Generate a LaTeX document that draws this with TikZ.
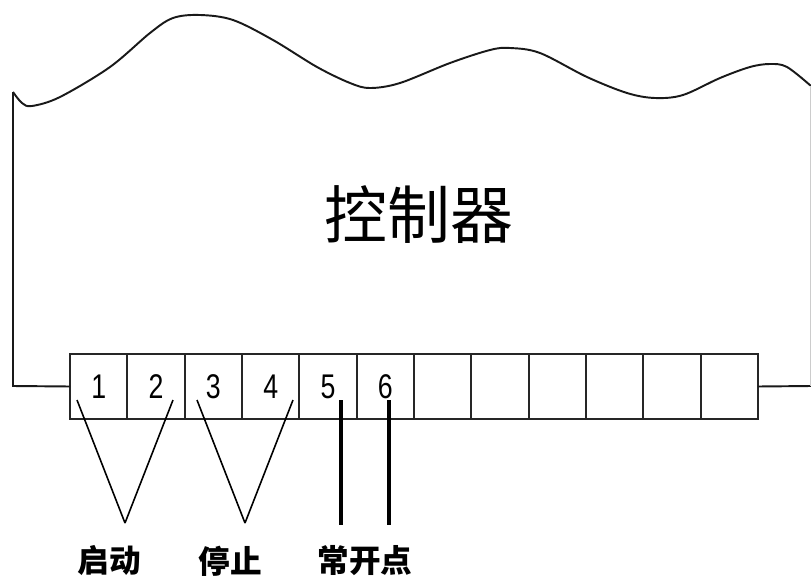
\documentclass[tikz,border=0pt]{standalone}
\usepackage{fontspec}
\usepackage{xcolor}
\usepackage{tikz}
\newfontfamily\cjk{Noto Sans CJK SC}
\newfontfamily\digitfont[FakeStretch=0.78]{Liberation Sans}

\begin{document}
\begin{tikzpicture}[x=0.02cm, y=-0.02cm,
        cell/.style={draw=black!85, line width=1.1pt, minimum width=1.1467cm, minimum height=1.3cm, inner sep=0pt, outer sep=0pt, font=\digitfont\fontsize{19.5}{19.5}\selectfont},
        label/.style={font=\cjk\bfseries\fontsize{18}{18}\selectfont, inner sep=0pt},
        wire/.style={line width=1.1pt, draw=black!90}]
        \useasboundingbox (0,0) rectangle (811,578);

        % controller outline
        \draw[wire] plot[smooth, tension=0.55] coordinates {(13,92) (22,103) (32,106) (60,97) (110,67) (150,33) (173,18) (200,15) (233,20) (273,40) (317,67) (350,83) (370,88) (400,83) (450,63) (490,50) (510,48) (540,53) (587,77) (627,93) (655,98) (683,95) (720,78) (750,67) (770,64) (787,67) (811,86)};
        \node[font=\cjk\fontsize{35.8}{36}\selectfont] (ctl) at (419,215) {控制器};

        % terminal strip
        \node[cell] (t1) at (98.7, 386.5) {1};
        \node[cell] (t2) at (156, 386.5) {2};
        \node[cell] (t3) at (213.3, 386.5) {3};
        \node[cell] (t4) at (270.7, 386.5) {4};
        \node[cell] (t5) at (328, 386.5) {5};
        \node[cell] (t6) at (385.3, 386.5) {6};
        \node[cell] (t7) at (442.7, 386.5) {};
        \node[cell] (t8) at (500, 386.5) {};
        \node[cell] (t9) at (557.3, 386.5) {};
        \node[cell] (t10) at (614.7, 386.5) {};
        \node[cell] (t11) at (672, 386.5) {};
        \node[cell] (t12) at (729.3, 386.5) {};

        \coordinate (w1) at (13,92);
        \coordinate (w2) at (13,386);
        \coordinate (w3) at (811,386);
        \coordinate (w4) at (811,86);
        \draw[wire] (w1) -- (w2) -- (t1.west);
        \draw[wire] (t12.east) -- (w3);
        \draw[line width=0.6pt, black!20] (w3) -- (w4);

        % wires to the terminals
        \coordinate (s1) at (77,400);
        \coordinate (s2) at (173,400);
        \coordinate (s3) at (197,400);
        \coordinate (s4) at (293,400);
        \coordinate (s5) at (341,400);
        \coordinate (s6) at (389,400);
        \coordinate (v1) at (125,523);
        \coordinate (v2) at (245,523);
        \coordinate (e5) at (341,525);
        \coordinate (e6) at (389,525);

        \path [line width=0.9pt] (s1) edge (v1);
        \path [line width=0.9pt] (s2) edge (v1);
        \path [line width=0.9pt] (s3) edge (v2);
        \path [line width=0.9pt] (s4) edge (v2);
        \path [line width=2.2pt] (s5) edge (e5);
        \path [line width=2.2pt] (s6) edge (e6);

        \node[label] (l1) at (109,561) {启动};
        \node[label] (l2) at (230,561) {停止};
        \node[label] (l3) at (365,561) {常开点};
    \end{tikzpicture}
\end{document}
